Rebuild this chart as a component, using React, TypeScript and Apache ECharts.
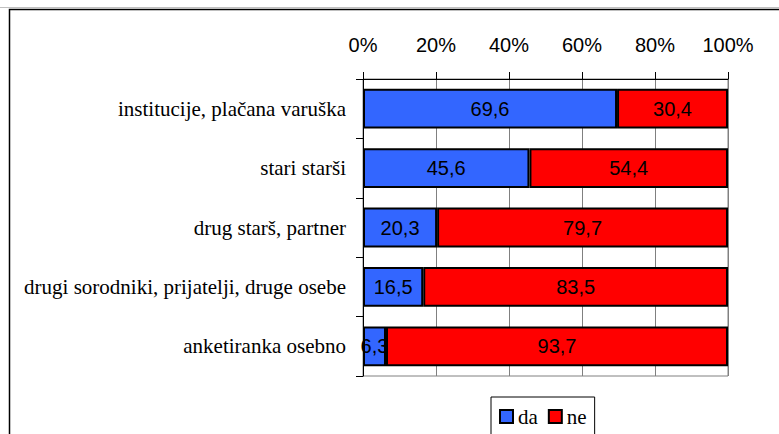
import React, { useEffect, useRef } from "react";
import * as echarts from "echarts";

const categories = [
  "institucije, plačana varuška",
  "stari starši",
  "drug starš, partner",
  "drugi sorodniki, prijatelji, druge osebe",
  "anketiranka osebno",
];
const daValues = [69.6, 45.6, 20.3, 16.5, 6.3];
const neValues = [30.4, 54.4, 79.7, 83.5, 93.7];
const seriesNames = ["da", "ne"];
const xTicks = [0, 20, 40, 60, 80, 100];

const fmt = (v: number) => v.toFixed(1).replace(".", ",");

export default function App() {
  const ref = useRef<HTMLDivElement>(null);
  useEffect(() => {
    if (!ref.current) return;
    const chart = echarts.init(ref.current, null, { renderer: "svg" });
    const labelStyle = {
      show: true,
      position: "inside",
      color: "#000",
      fontSize: 20,
      fontFamily: "Liberation Sans, Arial, sans-serif",
      formatter: (p: any) => fmt(p.value),
    };
    chart.setOption({
      animation: false,
      backgroundColor: "#fff",
      grid: {
        left: 363,
        right: 51,
        top: 79,
        bottom: 58,
        show: true,
        borderColor: "#808080",
        borderWidth: 1,
      },
      legend: {
        data: seriesNames,
        left: 491,
        top: 397,
        orient: "horizontal",
        icon: "rect",
        itemWidth: 13,
        itemHeight: 13,
        itemGap: 10,
        padding: [9, 8, 20, 8],
        borderColor: "#000",
        borderWidth: 1,
        textStyle: {
          color: "#000",
          fontSize: 21,
          fontFamily: "Liberation Serif, Times New Roman, serif",
        },
      },
      xAxis: {
        type: "value",
        position: "top",
        min: xTicks[0],
        max: xTicks[xTicks.length - 1],
        interval: 20,
        axisLine: { show: true, lineStyle: { color: "#000", width: 1 } },
        axisTick: { show: true, length: 7, lineStyle: { color: "#000" } },
        splitLine: { show: true, lineStyle: { color: "#808080", width: 1 } },
        axisLabel: {
          formatter: "{value}%",
          color: "#000",
          fontSize: 20,
          fontFamily: "Liberation Sans, Arial, sans-serif",
          margin: 24,
        },
      },
      yAxis: {
        type: "category",
        inverse: true,
        data: categories,
        axisLine: { show: true, lineStyle: { color: "#000", width: 1 } },
        axisTick: { show: true, length: 7, lineStyle: { color: "#000" } },
        splitLine: { show: false },
        axisLabel: {
          color: "#000",
          fontSize: 21,
          fontFamily: "Liberation Serif, Times New Roman, serif",
          margin: 17,
        },
      },
      series: [
        {
          name: seriesNames[0],
          type: "bar",
          stack: "total",
          barWidth: "67%",
          data: daValues,
          itemStyle: { color: "#3366FF", borderColor: "#000", borderWidth: 2 },
          label: labelStyle,
        },
        {
          name: seriesNames[1],
          type: "bar",
          stack: "total",
          barWidth: "67%",
          data: neValues,
          itemStyle: { color: "#FF0000", borderColor: "#000", borderWidth: 2 },
          label: labelStyle,
        },
      ],
      graphic: [
        {
          type: "line",
          shape: { x1: 0, y1: 7.5, x2: 779, y2: 7.5 },
          style: { stroke: "#c0c0c0", lineWidth: 1 },
        },
        {
          type: "rect",
          shape: { x: 9.5, y: 9.5, width: 820, height: 500 },
          style: { fill: "none", stroke: "#000", lineWidth: 1.5 },
        },
      ],
    });
    return () => chart.dispose();
  }, []);
  return (
    <div
      ref={ref}
      style={{ position: "absolute", left: 0, top: 0, width: 779, height: 434 }}
    />
  );
}
